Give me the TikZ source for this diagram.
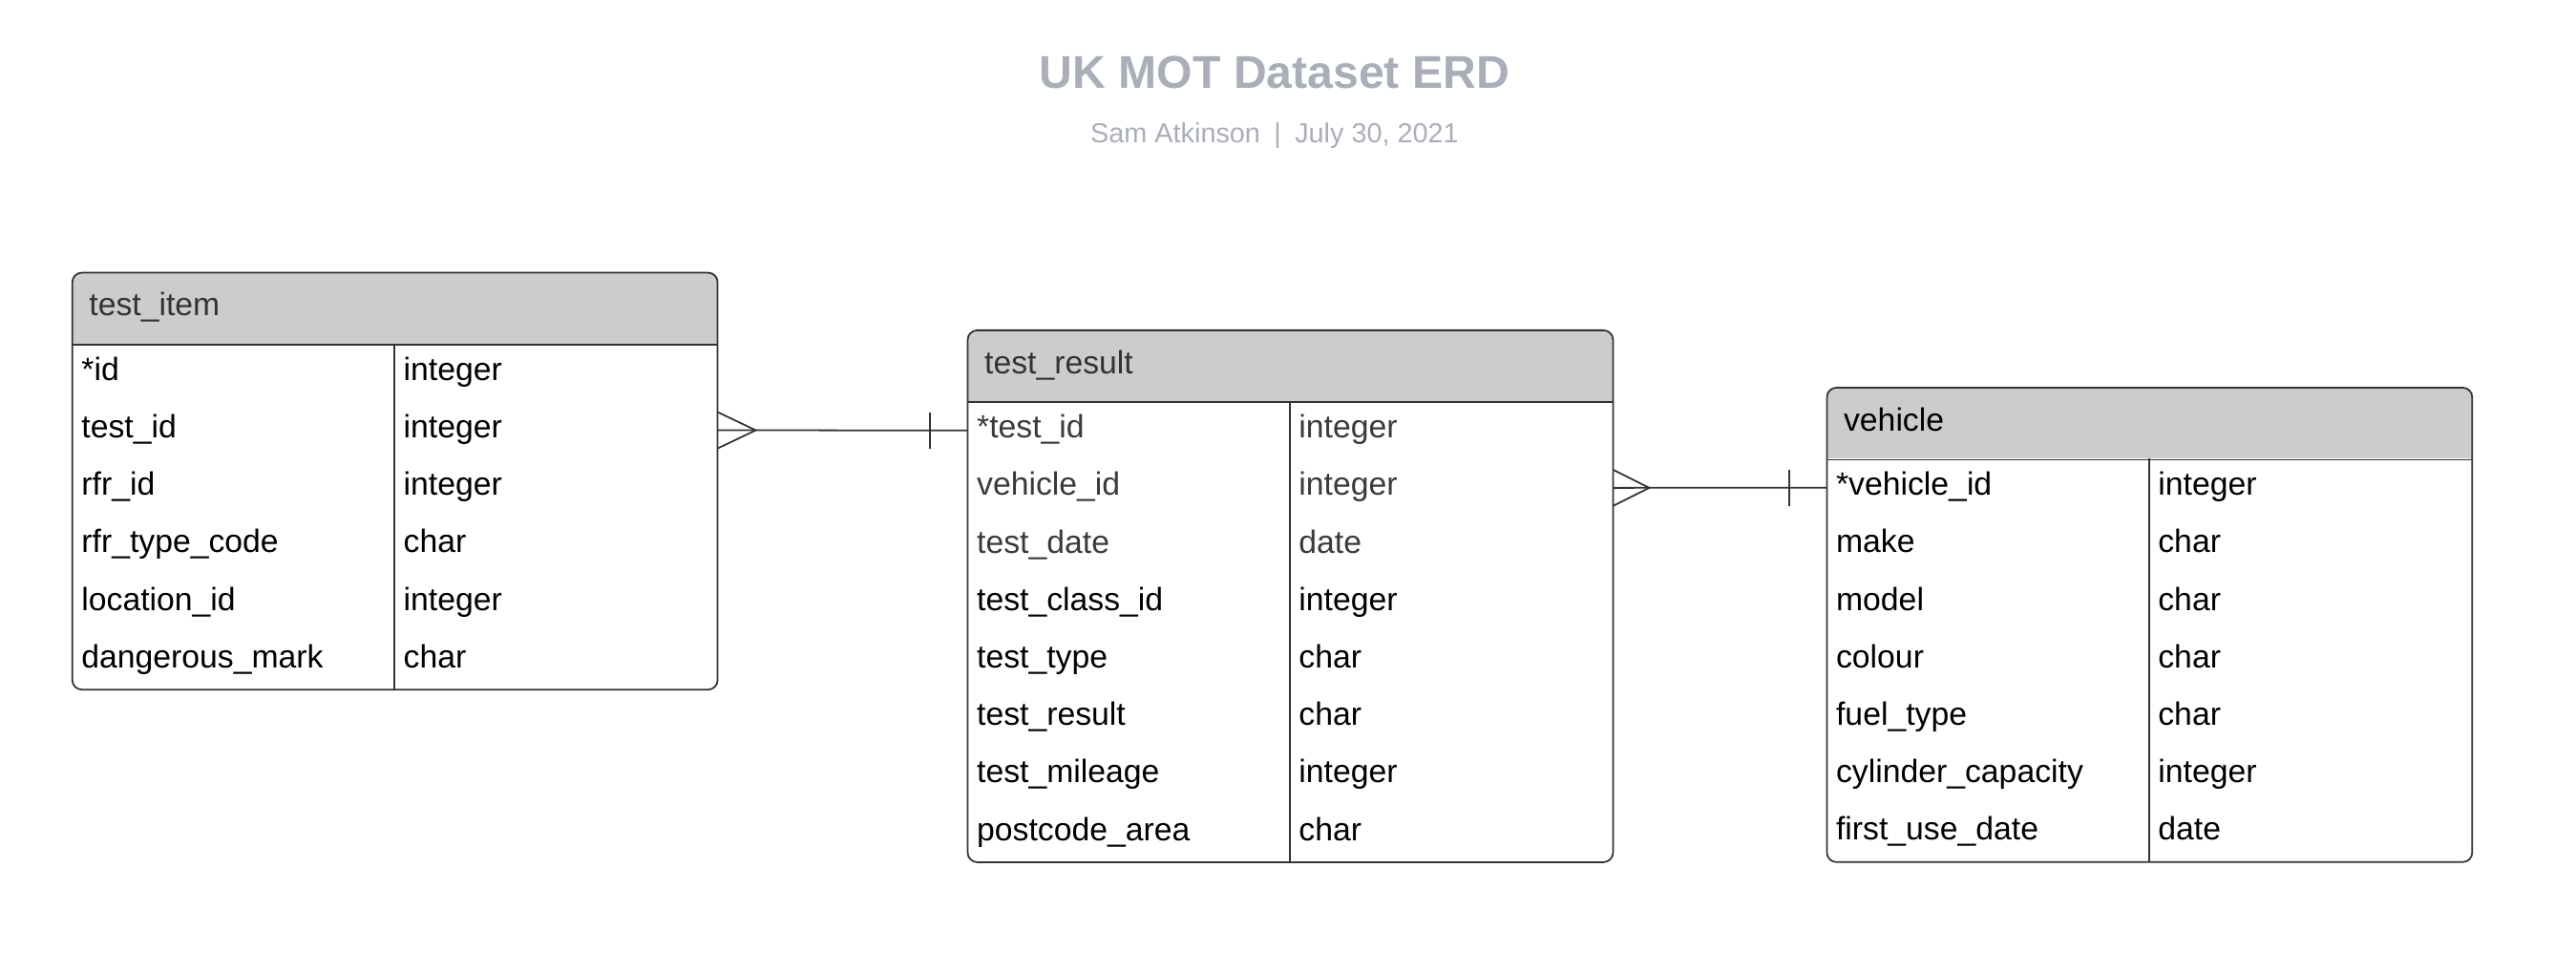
\documentclass[tikz,border=0pt]{standalone}
\usepackage{fontspec}
\setmainfont{Liberation Sans}
\definecolor{titlegray}{HTML}{A9AEB8}
\definecolor{headfill}{HTML}{CCCCCC}
\definecolor{edge}{HTML}{333333}
\definecolor{dim}{HTML}{3A3A3A}
\begin{document}
\begin{tikzpicture}
      \tikzstyle{title}=[font=\fontsize{13.7}{16}\selectfont\bfseries, text=titlegray]
      \tikzstyle{sub}=[font=\fontsize{8.2}{10}\selectfont, text=titlegray]
      \tikzstyle{head}=[anchor=north west, minimum width=6.745cm, minimum height=0.74cm,
                        text width=6.405cm, inner xsep=0.17cm, align=left,
                        text height=0.24cm, text depth=0.09cm,
                        font=\fontsize{9.6}{12}\selectfont, text=edge]
      \tikzstyle{cell}=[anchor=north west, minimum height=0.602cm, text width=3.1925cm,
                        inner xsep=0.09cm, inner ysep=0pt, text height=0.24cm,
                        text depth=0.08cm, align=left, font=\fontsize{9.6}{12}\selectfont]
      \tikzstyle{line}=[draw=edge, line width=0.5pt]
      \useasboundingbox (0,0) rectangle (26.98,10.2);
      \node[title] (erd) at (13.35, 9.44) {UK MOT Dataset ERD};
      \node[sub] (author) at (13.35, 8.78) {Sam Atkinson\enspace|\enspace July 30, 2021};
      % test_item
      \coordinate (itemtop) at (0.757, 7.344);
      \node[cell] (itemid)       at (0.757, 6.604) {*id};
      \node[cell] (itemidtype)   at (4.1295, 6.604) {integer};
      \node[cell] (itemtest)     at (0.757, 6.002) {test\_id};
      \node[cell] (itemtesttype) at (4.1295, 6.002) {integer};
      \node[cell] (itemrfr)      at (0.757, 5.400) {rfr\_id};
      \node[cell] (itemrfrtype)  at (4.1295, 5.400) {integer};
      \node[cell] (itemcode)     at (0.757, 4.798) {rfr\_type\_code};
      \node[cell] (itemcodetype) at (4.1295, 4.798) {char};
      \node[cell] (itemloc)      at (0.757, 4.196) {location\_id};
      \node[cell] (itemloctype)  at (4.1295, 4.196) {integer};
      \node[cell] (itemmark)     at (0.757, 3.594) {dangerous\_mark};
      \node[cell] (itemmarktype) at (4.1295, 3.594) {char};
      \begin{scope}
        \clip[rounded corners=0.1cm] (itemtop) rectangle (itemmarktype.south east);
        \fill[headfill] (itemtop) rectangle (itemidtype.north east);
      \end{scope}
      \node[head] (item) at (itemtop) {test\_item};
      \draw[line, rounded corners=0.1cm] (item.north west) rectangle (itemmarktype.south east);
      \draw[line] (item.south west) -- (item.south east);
      \draw[line] (itemidtype.north west) -- (itemmarktype.south west);
      % test_result
      \coordinate (resulttop) at (10.135, 6.741);
      \node[cell, text=dim] (restest)      at (10.135, 6.001) {*test\_id};
      \node[cell, text=dim] (restesttype)  at (13.5075, 6.001) {integer};
      \node[cell, text=dim] (resveh)       at (10.135, 5.399) {vehicle\_id};
      \node[cell, text=dim] (resvehtype)   at (13.5075, 5.399) {integer};
      \node[cell, text=dim] (resdate)      at (10.135, 4.797) {test\_date};
      \node[cell, text=dim] (resdatetype)  at (13.5075, 4.797) {date};
      \node[cell] (resclass)     at (10.135, 4.195) {test\_class\_id};
      \node[cell] (resclasstype) at (13.5075, 4.195) {integer};
      \node[cell] (restype)      at (10.135, 3.593) {test\_type};
      \node[cell] (restypetype)  at (13.5075, 3.593) {char};
      \node[cell] (resres)       at (10.135, 2.991) {test\_result};
      \node[cell] (resrestype)   at (13.5075, 2.991) {char};
      \node[cell] (resmile)      at (10.135, 2.389) {test\_mileage};
      \node[cell] (resmiletype)  at (13.5075, 2.389) {integer};
      \node[cell] (respost)      at (10.135, 1.787) {postcode\_area};
      \node[cell] (resposttype)  at (13.5075, 1.787) {char};
      \begin{scope}
        \clip[rounded corners=0.1cm] (resulttop) rectangle (resposttype.south east);
        \fill[headfill] (resulttop) rectangle (restesttype.north east);
      \end{scope}
      \node[head] (result) at (resulttop) {test\_result};
      \draw[line, rounded corners=0.1cm] (result.north west) rectangle (resposttype.south east);
      \draw[line] (result.south west) -- (result.south east);
      \draw[line] (restesttype.north west) -- (resposttype.south west);
      % vehicle
      \coordinate (vehicletop) at (19.134, 6.14);
      \node[cell] (vehid)       at (19.134, 5.400) {*vehicle\_id};
      \node[cell] (vehidtype)   at (22.5065, 5.400) {integer};
      \node[cell] (vehmake)     at (19.134, 4.798) {make};
      \node[cell] (vehmaketype) at (22.5065, 4.798) {char};
      \node[cell] (vehmodel)    at (19.134, 4.196) {model};
      \node[cell] (vehmodeltype) at (22.5065, 4.196) {char};
      \node[cell] (vehcol)      at (19.134, 3.594) {colour};
      \node[cell] (vehcoltype)  at (22.5065, 3.594) {char};
      \node[cell] (vehfuel)     at (19.134, 2.992) {fuel\_type};
      \node[cell] (vehfueltype) at (22.5065, 2.992) {char};
      \node[cell] (vehcyl)      at (19.134, 2.390) {cylinder\_capacity};
      \node[cell] (vehcyltype)  at (22.5065, 2.390) {integer};
      \node[cell] (vehfirst)    at (19.134, 1.788) {first\_use\_date};
      \node[cell] (vehfirsttype) at (22.5065, 1.788) {date};
      \begin{scope}
        \clip[rounded corners=0.1cm] (vehicletop) rectangle (vehfirsttype.south east);
        \fill[headfill] (vehicletop) rectangle (vehidtype.north east);
      \end{scope}
      \node[head, text=black] (vehicle) at (vehicletop) {vehicle};
      \draw[line, rounded corners=0.1cm] (vehicle.north west) rectangle (vehfirsttype.south east);
      \draw[line] (vehicle.south west) -- (vehicle.south east);
      \draw[line] (vehidtype.north west) -- (vehfirsttype.south west);
      % relations
      \draw[line] (itemtesttype.east) -- (restest.west);
      \draw[line] (itemtesttype.east) ++(0,0.19) -- ++(0.4,-0.19) -- ++(-0.4,-0.19);
      \draw[line] (restest.west) ++(-0.395,0.19) -- ++(0,-0.38);
      \draw[line] (resvehtype.east) -- (vehid.west);
      \draw[line] (resvehtype.east) ++(0,0.19) -- ++(0.38,-0.19) -- ++(-0.38,-0.19);
      \draw[line] (vehid.west) ++(-0.395,0.19) -- ++(0,-0.38);
    \end{tikzpicture}
\end{document}
